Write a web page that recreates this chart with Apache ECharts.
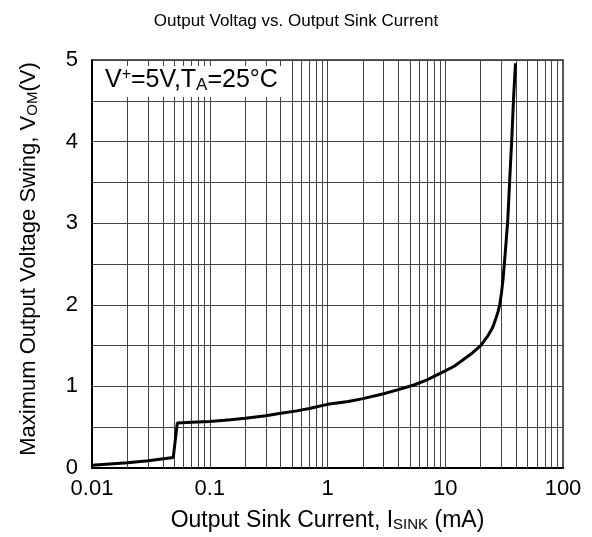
<!DOCTYPE html>
<html><head><meta charset="utf-8">
<script src="https://cdn.jsdelivr.net/npm/echarts@6/dist/echarts.min.js"></script>
<style>html,body{margin:0;padding:0;background:#fff}#c{width:592px;height:537px}</style>
</head><body><div id="c"></div>
<script>
const currentMA = [0.01, 0.02, 0.03, 0.049, 0.053, 0.07, 0.1, 0.15, 0.2, 0.3, 0.4, 0.55, 0.7, 1, 1.5, 2, 3, 4, 5.5, 7, 10, 12, 14, 17, 20, 23, 25, 26, 27, 28, 29, 30, 31, 32.5, 34, 35.3, 36.7, 38, 39.5];
const voltage   = [0.035, 0.065, 0.09, 0.13, 0.55, 0.56, 0.57, 0.59, 0.61, 0.64, 0.67, 0.70, 0.73, 0.78, 0.815, 0.85, 0.91, 0.96, 1.02, 1.08, 1.19, 1.25, 1.32, 1.41, 1.5, 1.62, 1.71, 1.77, 1.84, 1.91, 2.0, 2.14, 2.32, 2.68, 3.05, 3.54, 4.02, 4.52, 4.96];
const xTickLabels = ['0.01', '0.1', '1', '10', '100'];
const xGridValues = [0.02,0.03,0.04,0.05,0.06,0.07,0.08,0.09,0.1,0.2,0.3,0.4,0.5,0.6,0.7,0.8,0.9,1,2,3,4,5,6,7,8,9,10,20,30,40,50,60,70,80,90];
const titleText = 'Output Voltag vs. Output Sink Current';

const FONT = '"Liberation Sans", Arial, sans-serif';
const chart = echarts.init(document.getElementById('c'));
const data = currentMA.map((x, i) => [x, voltage[i]]);
chart.setOption({
  animation: false,
  backgroundColor: '#fff',
  title: { text: titleText, left: 'center', top: 8, textStyle: { fontFamily: FONT, fontSize: 17, fontWeight: 'normal', color: '#000' } },
  grid: { left: 92, right: 29, top: 60, bottom: 67, show: true, borderColor: '#222', borderWidth: 1.5 },
  xAxis: {
    type: 'log', logBase: 10, min: 0.01, max: 100,
    axisLine: { show: true, lineStyle: { color: '#000', width: 2 } },
    axisTick: { show: false },
    splitLine: { show: false },
    axisLabel: { fontFamily: FONT, fontSize: 22, color: '#000', margin: 10,
      formatter: v => { const s = xTickLabels.find(t => Math.abs(Math.log10(+t) - Math.log10(v)) < 1e-6); return s || ''; } },
    name: 'Output Sink Current, I{s|SINK} (mA)', nameLocation: 'middle', nameGap: 41,
    nameTextStyle: { fontFamily: FONT, fontSize: 23, color: '#000', rich: { s: { fontFamily: FONT, fontSize: 15, color: '#000', verticalAlign: 'bottom', padding: [8,0,0,0] } } }
  },
  yAxis: {
    type: 'value', min: 0, max: 5, interval: 0.5,
    axisLine: { show: true, lineStyle: { color: '#000', width: 2 } },
    axisTick: { show: false },
    splitLine: { show: true, lineStyle: { color: '#444', width: 1 } },
    axisLabel: { fontFamily: FONT, fontSize: 22, color: '#000', margin: 14,
      formatter: v => (Math.abs(v - Math.round(v)) < 1e-6 ? String(Math.round(v)) : '') },
    name: 'Maximum Output Voltage Swing, V{s|OM}(V)', nameLocation: 'middle', nameGap: 52,
    nameTextStyle: { fontFamily: FONT, fontSize: 22, color: '#000', padding: [0, 0, 0, 10], rich: { s: { fontFamily: FONT, fontSize: 15, color: '#000', verticalAlign: 'bottom', padding: [8,0,0,0] } } }
  },
  series: [{
    type: 'line', data: data, showSymbol: false, smooth: false,
    lineStyle: { color: '#000', width: 3 }, z: 5,
    markLine: { silent: true, symbol: 'none', label: { show: false }, z: 1,
      lineStyle: { color: '#444', width: 1, type: 'solid' },
      data: xGridValues.map(v => ({ xAxis: v })) }
  }],
  graphic: [
    { type: 'rect', left: 93, top: 66, z: 100, shape: { width: 197, height: 31 }, style: { fill: '#fff' } },
    { type: 'text', left: 105, top: 67, z: 101, style: { text: '{n|V}{sup|+}{n|=5V,T}{sub|A}{n|=25°C}', fill: '#000',
        rich: { n: { fontFamily: FONT, fontSize: 25, fill: '#000', color: '#000' },
                sup: { fontFamily: FONT, fontSize: 16, fill: '#000', color: '#000', verticalAlign: 'top', padding: [0,0,10,0] },
                sub: { fontFamily: FONT, fontSize: 17, fill: '#000', color: '#000', verticalAlign: 'bottom', padding: [10,0,0,0] } } } }
  ]
});
</script></body></html>
